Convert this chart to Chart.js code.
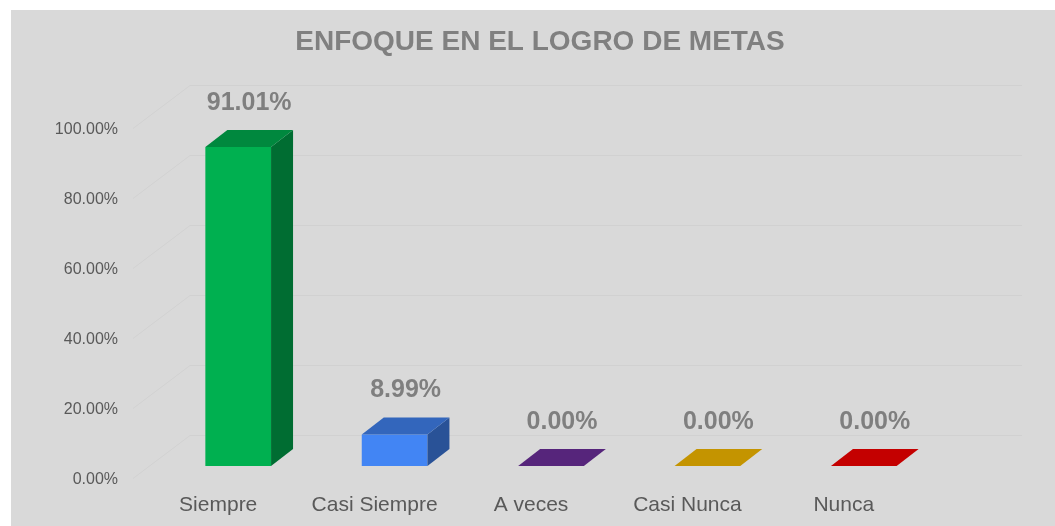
<!DOCTYPE html>
<html>
<head>
<meta charset="utf-8">
<script src="https://cdn.jsdelivr.net/npm/chart.js@4.4.1/dist/chart.umd.min.js"></script>
<style>
  html, body { margin: 0; padding: 0; background: #fff; }
  #wrap { position: absolute; left: 11px; top: 10px; width: 1044px; height: 516px; background: #d9d9d9; }
</style>
</head>
<body>
<div id="wrap"><canvas id="graph" width="1044" height="516"></canvas></div>
<script>
const categories = ['Siempre', 'Casi Siempre', 'A veces', 'Casi Nunca', 'Nunca'];
const percentages = [91.01, 8.99, 0, 0, 0];
const yTicks = [0, 20, 40, 60, 80, 100];

const baseColors = ['#00B050', '#4285F4', '#7030A0', '#FFC000', '#FF0000'];

// fake 3d depth
const depthX = 22, depthY = -17;
const floorX = 57, floorY = -43, floorFront = 12;

function shade(hex, f){
  const n = parseInt(hex.slice(1), 16);
  const r = Math.round(((n >> 16) & 255) * f);
  const g = Math.round(((n >> 8) & 255) * f);
  const b = Math.round((n & 255) * f);
  return `rgb(${r},${g},${b})`;
}

const fake3d = {
  id: 'fake3d',
  beforeDatasetsDraw(chart){
    const ctx = chart.ctx;
    const y = chart.scales.y;
    const left = chart.chartArea.left - 27;
    ctx.save();
    ctx.strokeStyle = 'rgba(0,0,0,0.035)';
    ctx.lineWidth = 1;
    yTicks.forEach(v=>{
      const py = Math.round(y.getPixelForValue(v) + floorFront) + 0.5;
      ctx.beginPath();
      ctx.moveTo(left, py);
      ctx.lineTo(left + floorX, py + floorY);
      ctx.lineTo(1011, py + floorY);
      ctx.stroke();
    });
    ctx.restore();
  },
  afterDatasetsDraw(chart){
    const ctx = chart.ctx;
    const meta = chart.getDatasetMeta(0);
    ctx.save();
    meta.data.forEach((bar, i)=>{
      const w = bar.width;
      const l = bar.x - w / 2, r = bar.x + w / 2;
      const top = bar.y, base = bar.base;
      // side
      ctx.fillStyle = shade(baseColors[i], 0.62);
      ctx.beginPath();
      ctx.moveTo(r, top);
      ctx.lineTo(r + depthX, top + depthY);
      ctx.lineTo(r + depthX, base + depthY);
      ctx.lineTo(r, base);
      ctx.closePath();
      ctx.fill();
      // top
      ctx.fillStyle = shade(baseColors[i], 0.77);
      ctx.beginPath();
      ctx.moveTo(l, top);
      ctx.lineTo(l + depthX, top + depthY);
      ctx.lineTo(r + depthX, top + depthY);
      ctx.lineTo(r, top);
      ctx.closePath();
      ctx.fill();
      // value label
      ctx.fillStyle = '#7f7f7f';
      ctx.font = 'bold 25px "Liberation Sans", Arial, sans-serif';
      ctx.textAlign = 'center';
      ctx.textBaseline = 'middle';
      ctx.fillText(percentages[i].toFixed(2) + '%', bar.x + depthX / 2, top + depthY - 27);
    });
    ctx.restore();
  }
};

const myBarChart = new Chart(document.getElementById('graph'), {
  type: 'bar',
  data: {
    labels: categories,
    datasets: [{
      label: 'Enfoque',
      data: percentages,
      backgroundColor: baseColors,
      borderWidth: 0,
      barPercentage: 0.42,
      categoryPercentage: 1
    }]
  },
  options: {
    responsive: false,
    animation: false,
    layout: { padding: { left: 14, right: 0, top: 0, bottom: 0 } },
    plugins: {
      legend: { display: false },
      tooltip: { enabled: false },
      title: {
        display: true,
        text: 'ENFOQUE EN EL LOGRO DE METAS',
        color: '#808080',
        font: { family: '"Liberation Sans", Arial, sans-serif', size: 28, weight: 'bold' },
        padding: { top: 15, bottom: 57 }
      }
    },
    scales: {
      x: {
        offset: true,
        grid: { display: false, drawTicks: false },
        border: { display: false },
        afterFit: s => { s.height = 60; },
        ticks: {
          color: '#595959',
          font: { family: '"Liberation Sans", Arial, sans-serif', size: 21 },
          padding: 27,
          labelOffset: -20,
          maxRotation: 0
        }
      },
      y: {
        min: 0,
        max: 100,
        grid: { display: false, drawTicks: false },
        border: { display: false },
        afterFit: s => { s.width = 135; },
        afterBuildTicks: s => { s.ticks = yTicks.map(v => ({ value: v })); },
        ticks: {
          color: '#595959',
          font: { family: '"Liberation Sans", Arial, sans-serif', size: 16 },
          padding: 42,
          labelOffset: 14,
          callback: v => v.toFixed(2) + '%'
        }
      },
      yRight: {
        position: 'right',
        min: 0,
        max: 100,
        grid: { display: false, drawTicks: false },
        border: { display: false },
        ticks: { display: false },
        afterFit: s => { s.width = 113; }
      }
    }
  },
  plugins: [fake3d]
});
</script>
</body>
</html>
